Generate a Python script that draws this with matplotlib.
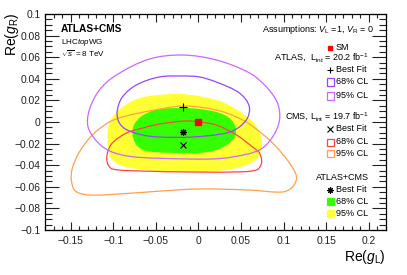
import numpy as np
import matplotlib
matplotlib.use("Agg")
import matplotlib.pyplot as plt
from matplotlib.path import Path
from matplotlib.patches import PathPatch, Rectangle
from matplotlib.ticker import MultipleLocator, FuncFormatter

plt.rcParams['font.family'] = ['Liberation Sans', 'DejaVu Sans']
plt.rcParams['mathtext.fontset'] = 'custom'
plt.rcParams['mathtext.rm'] = 'Liberation Sans'
plt.rcParams['mathtext.it'] = 'Liberation Sans:italic'
plt.rcParams['mathtext.bf'] = 'Liberation Sans:bold'

# contour outlines (Re(gL), Re(gR))
comb95_x = [-0.0188, -0.0575, -0.0751, -0.0904, -0.1010, -0.1057, -0.1068, -0.1057, -0.1010, -0.0845,
            -0.0458, 0.0012, 0.0329, 0.0564, 0.0693, 0.0740, 0.0728, 0.0640, 0.0399, 0.0211]
comb95_y = [0.0259, 0.0241, 0.0204, 0.0130, 0.0046, -0.0046, -0.0167, -0.0259, -0.0352, -0.0417,
            -0.0454, -0.0463, -0.0444, -0.0398, -0.0333, -0.0241, -0.0120, 0.0000, 0.0139, 0.0204]

comb68_x = [-0.0188, -0.0458, -0.0575, -0.0681, -0.0751, -0.0775, -0.0763, -0.0716, -0.0610, -0.0258,
            0.0012, 0.0211, 0.0364, 0.0434, 0.0434, 0.0364, 0.0211, 0.0012]
comb68_y = [0.0130, 0.0120, 0.0093, 0.0046, -0.0019, -0.0093, -0.0157, -0.0222, -0.0269, -0.0287,
            -0.0287, -0.0259, -0.0194, -0.0120, -0.0046, 0.0037, 0.0093, 0.0120]

atlas68_x = [-0.0188, -0.0458, -0.0728, -0.0892, -0.0951, -0.0939, -0.0857, -0.0657, -0.0458, -0.0070,
             0.0329, 0.0481, 0.0575, 0.0599, 0.0552, 0.0446, 0.0211, 0.0012]
atlas68_y = [0.0426, 0.0417, 0.0343, 0.0232, 0.0111, 0.0009, -0.0065, -0.0120, -0.0139, -0.0139,
             -0.0102, -0.0046, 0.0037, 0.0130, 0.0213, 0.0287, 0.0370, 0.0417]

atlas95_x = [-0.0188, -0.0575, -0.0963, -0.1162, -0.1280, -0.1295, -0.1180, -0.1030, -0.0810, -0.0458,
             0.0129, 0.0399, 0.0716, 0.0869, 0.0951, 0.0927, 0.0798, 0.0599, 0.0211]
atlas95_y = [0.0620, 0.0583, 0.0435, 0.0296, 0.0111, -0.0046, -0.0190, -0.0272, -0.0318, -0.0336,
             -0.0343, -0.0324, -0.0259, -0.0139, 0.0019, 0.0176, 0.0324, 0.0454, 0.0574]

cms68_x = [-0.0164, -0.0458, -0.0657, -0.0845, -0.1010, -0.1068, -0.1068, -0.1010, -0.0657, -0.0070,
           0.0399, 0.0681, 0.0740, 0.0716, 0.0634, 0.0446, 0.0211, 0.0012]
cms68_y = [0.0009, -0.0019, -0.0056, -0.0102, -0.0194, -0.0287, -0.0380, -0.0435, -0.0454, -0.0463,
           -0.0463, -0.0444, -0.0380, -0.0287, -0.0231, -0.0120, -0.0028, 0.0000]

cms95_x = [-0.0176, -0.0575, -0.0845, -0.1045, -0.1244, -0.1397, -0.1479, -0.1491, -0.1444, -0.1280,
           -0.0845, -0.0458, 0.0012, 0.0599, 0.0986, 0.1104, 0.1150, 0.1068, 0.0869, 0.0599, 0.0446, 0.0211]
cms95_y = [0.0148, 0.0102, 0.0056, 0.0000, -0.0120, -0.0278, -0.0426, -0.0537, -0.0639, -0.0676,
           -0.0662, -0.0640, -0.0620, -0.0630, -0.0648, -0.0602, -0.0509, -0.0380, -0.0194, -0.0019, 0.0046, 0.0111]

sm_point = (0.0, 0.0)
atlas_best = (-0.018, 0.014)
cms_best = (-0.018, -0.021)
comb_best = (-0.018, -0.0093)

c_atlas68 = '#9944ff'
c_atlas95 = '#cc66ff'
c_cms68 = '#ff4444'
c_cms95 = '#ffa04a'
c_green = '#33ff00'
c_yellow = '#ffff33'

W, H = 407, 275
XLIM = (-0.18, 0.22)
YLIM = (-0.1, 0.1)
AX_W, AX_H = 341, 216


def closed_curve(xs, ys):
    # closed smooth curve through the points, tangents weighted by chord length (in pixels)
    p = np.column_stack([xs, ys])
    sx = AX_W / (XLIM[1] - XLIM[0])
    sy = AX_H / (YLIM[1] - YLIM[0])
    q = p * [sx, sy]
    n = len(p)
    d = np.hypot(*(np.roll(q, -1, axis=0) - q).T)  # d[i] = |q[i+1]-q[i]|
    tang = (np.roll(q, -1, axis=0) - np.roll(q, 1, axis=0)) / (d + np.roll(d, 1))[:, None]
    verts = [q[0]]
    codes = [Path.MOVETO]
    for i in range(n):
        j = (i + 1) % n
        verts += [q[i] + tang[i] * d[i] / 3, q[j] - tang[j] * d[i] / 3, q[j]]
        codes += [Path.CURVE4] * 3
    verts.append(q[0])
    codes.append(Path.CLOSEPOLY)
    return Path(np.array(verts) / [sx, sy], codes)


fig = plt.figure(figsize=(W / 100, H / 100), dpi=100)
ax = fig.add_axes([45 / W, 1 - 230 / H, AX_W / W, AX_H / H])

ax.add_patch(PathPatch(closed_curve(comb95_x, comb95_y), fc=c_yellow, ec='none'))
ax.add_patch(PathPatch(closed_curve(comb68_x, comb68_y), fc=c_green, ec='none'))
ax.add_patch(PathPatch(closed_curve(cms95_x, cms95_y), fc='none', ec=c_cms95, lw=0.9))
ax.add_patch(PathPatch(closed_curve(cms68_x, cms68_y), fc='none', ec=c_cms68, lw=0.9))
ax.add_patch(PathPatch(closed_curve(atlas95_x, atlas95_y), fc='none', ec=c_atlas95, lw=0.9))
ax.add_patch(PathPatch(closed_curve(atlas68_x, atlas68_y), fc='none', ec=c_atlas68, lw=0.9))

ax.plot(*sm_point, 's', color='red', ms=4.5, zorder=5)
ax.plot(*atlas_best, '+', color='black', ms=5.5, mew=0.8, zorder=5)
ax.plot(*cms_best, 'x', color='black', ms=4.5, mew=0.8, zorder=5)
ax.plot(*comb_best, marker=(8, 2, 0), color='black', ms=5, mew=0.8, zorder=5)

ax.set_xlim(*XLIM)
ax.set_ylim(*YLIM)
ax.xaxis.set_major_locator(MultipleLocator(0.05))
ax.xaxis.set_minor_locator(MultipleLocator(0.01))
ax.yaxis.set_major_locator(MultipleLocator(0.02))
ax.yaxis.set_minor_locator(MultipleLocator(0.005))


def fmt(v, pos):
    v = round(v, 4)
    if v == 0:
        return '0'
    return f'{v:g}'.replace('-', '\u2212')


ax.xaxis.set_major_formatter(FuncFormatter(fmt))
ax.yaxis.set_major_formatter(FuncFormatter(fmt))
ax.tick_params(which='both', direction='in', top=True, right=True, labelsize=7.4, colors='#222222')
ax.tick_params(axis='x', which='major', length=6, width=0.8, pad=4)
ax.tick_params(axis='x', which='minor', length=3, width=0.8)
ax.tick_params(axis='y', which='major', length=10, width=0.8, pad=3)
ax.tick_params(axis='y', which='minor', length=5, width=0.8)
for s in ax.spines.values():
    s.set_linewidth(0.9)


def fx(px):
    return px / W


def fy(py):
    return 1 - py / H


fig.text(fx(386), fy(257), r'Re($g_{\mathrm{L}}$)', ha='right', va='center', fontsize=10)
fig.text(fx(12), fy(13), r'Re($g_{\mathrm{R}}$)', ha='center', va='top', rotation=90, fontsize=10)

fig.text(fx(61), fy(29), 'ATLAS+CMS', fontsize=7.3, fontweight='bold', va='center')
fig.text(fx(61), fy(42), r'LHC$\it{top}$WG', fontsize=5.8, va='center')
fig.text(fx(61), fy(54), r'$\sqrt{s}$ = 8 TeV', fontsize=5.8, va='center')

fs = 6.5
fig.text(fx(374), fy(30), r'Assumptions: $V_{\mathrm{L}}$ =1, $V_{\mathrm{R}}$ = 0', fontsize=fs, ha='right', va='center')

# legend, built by hand
fig.text(fx(335.5), fy(48), 'SM', fontsize=fs, va='center')
fig.lines.append(plt.Line2D([fx(330)], [fy(48)], marker='s', color='red', ms=3.5, transform=fig.transFigure))

groups = [
    (58, r'ATLAS,  L$_{\mathrm{int}}$ = 20.2 fb$^{-1}$', '+', [(82, c_atlas68, False), (96, c_atlas95, False)]),
    (117, r'CMS, L$_{\mathrm{int}}$ = 19.7 fb$^{-1}$', 'x', [(142, c_cms68, False), (153, c_cms95, False)]),
    (178, 'ATLAS+CMS', (8, 2, 0), [(201, c_green, True), (213, c_yellow, True)]),
]
for ytitle, title, mk, boxes in groups:
    fig.text(fx(369), fy(ytitle), title, fontsize=fs, ha='right', va='center')
    ybf = ytitle + 11.5
    fig.lines.append(plt.Line2D([fx(330)], [fy(ybf)], marker=mk, color='black', ms=4.5, mew=0.8,
                                transform=fig.transFigure))
    fig.text(fx(336), fy(ybf), 'Best Fit', fontsize=fs, va='center')
    for k, (yb, col, filled) in enumerate(boxes):
        rect = Rectangle((fx(327), fy(yb + 3.5)), 7 / W, 7 / H, transform=fig.transFigure,
                         fc=col if filled else 'none', ec=col, lw=0.9)
        fig.patches.append(rect)
        fig.text(fx(335.5), fy(yb), '68% CL' if k == 0 else '95% CL', fontsize=fs, va='center')

fig.savefig('out.png', dpi=100)
